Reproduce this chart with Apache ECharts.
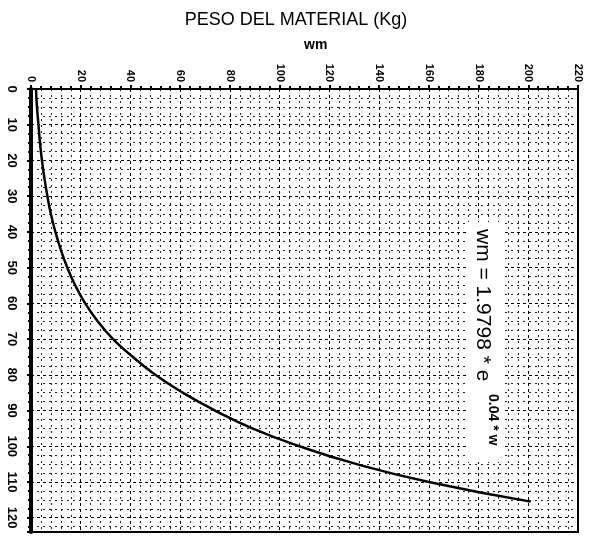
<!DOCTYPE html>
<html>
<head>
<meta charset="utf-8">
<script src="https://cdn.jsdelivr.net/npm/echarts@6/dist/echarts.min.js"></script>
<style>
  html, body { margin: 0; padding: 0; background: #fff; }
  #chart { width: 592px; height: 536px; }
</style>
</head>
<body>
<div id="chart"></div>
<script>
// Rotated plot: material weight wm runs along the top, w runs down the left side.
const wmTicks = [0, 20, 40, 60, 80, 100, 120, 140, 160, 180, 200, 220];
const wTicks = [0, 10, 20, 30, 40, 50, 60, 70, 80, 90, 100, 110, 120];
const wAxisMax = 124;

// Curve wm = f(w)
const curveW  = [0, 5, 10, 15, 20, 25, 30, 35, 40, 45, 50, 55, 60, 65, 70, 75, 80, 85, 90, 95, 100, 105, 110, 115.5];
const curveWm = [2.0, 2.4, 3.0, 3.6, 4.4, 5.4, 6.6, 8.0, 9.8, 12.0, 14.6, 17.8, 21.8, 26.8, 33.0, 41.0, 50.0, 61.0, 74.0, 89.0, 108, 131, 160, 201];

const FONT = '"Liberation Sans", Arial, sans-serif';

const chart = echarts.init(document.getElementById('chart'), null, { renderer: 'canvas' });

const curveData = curveW.map((w, i) => [curveWm[i], w]);

chart.setOption({
  animation: false,
  backgroundColor: '#fff',
  grid: {
    left: 31, right: 14, top: 89, bottom: 4,
    show: true, borderColor: '#000', borderWidth: 2, backgroundColor: 'transparent'
  },
  title: [
    {
      text: 'PESO DEL MATERIAL (Kg)',
      left: 'center', top: 6,
      textStyle: { fontFamily: FONT, fontSize: 18, fontWeight: 'normal', color: '#000' }
    },
    {
      text: 'wm',
      left: 299, top: 33,
      textStyle: { fontFamily: FONT, fontSize: 14, fontWeight: 'bold', color: '#000' }
    }
  ],
  xAxis: {
    type: 'value',
    position: 'top',
    min: wmTicks[0],
    max: wmTicks[wmTicks.length - 1],
    interval: wmTicks[1] - wmTicks[0],
    axisLine: { show: true, lineStyle: { color: '#000', width: 2 } },
    axisTick: { show: true, length: 4, lineStyle: { color: '#000', width: 2 } },
    minorTick: { show: true, splitNumber: 5, length: 3, lineStyle: { color: '#000', width: 2 } },
    axisLabel: {
      rotate: -90, margin: 7,
      fontFamily: FONT, fontSize: 11, fontWeight: 'bold', color: '#000'
    },
    splitLine: { show: true, lineStyle: { color: '#000', width: 1, type: [3, 3] } },
    minorSplitLine: { show: true, lineStyle: { color: '#222', width: 1, type: [2, 4] } }
  },
  yAxis: {
    type: 'value',
    inverse: true,
    min: wTicks[0],
    max: wAxisMax,
    interval: wTicks[1] - wTicks[0],
    axisLine: { show: true, lineStyle: { color: '#000', width: 4 } },
    axisTick: { show: true, length: 4, lineStyle: { color: '#000', width: 2 } },
    minorTick: { show: true, splitNumber: 4, length: 3, lineStyle: { color: '#000', width: 2 } },
    axisLabel: {
      rotate: -90, margin: 13, showMaxLabel: false,
      fontFamily: FONT, fontSize: 13, fontWeight: 'bold', color: '#000'
    },
    splitLine: { show: true, lineStyle: { color: '#000', width: 1, type: [3, 3] } },
    minorSplitLine: { show: true, lineStyle: { color: '#222', width: 1, type: [2, 4] } }
  },
  series: [{
    type: 'line',
    data: curveData,
    smooth: true,
    showSymbol: false,
    lineStyle: { color: '#000', width: 2.5 },
    z: 5
  }],
  graphic: [
    {
      type: 'rect',
      shape: { x: 468, y: 222, width: 36, height: 240 },
      style: { fill: '#fff' },
      z: 10
    },
    {
      type: 'text',
      x: 483, y: 229,
      rotation: -Math.PI / 2,
      style: {
        text: 'wm = 1.9798 * e',
        fontFamily: FONT, fontSize: 21, fill: '#000',
        align: 'left', verticalAlign: 'middle'
      },
      z: 11
    },
    {
      type: 'text',
      x: 493, y: 394,
      rotation: -Math.PI / 2,
      style: {
        text: '0.04 * w',
        fontFamily: FONT, fontSize: 14, fontWeight: 'bold', fill: '#000',
        align: 'left', verticalAlign: 'middle'
      },
      z: 11
    }
  ]
});
</script>
</body>
</html>
